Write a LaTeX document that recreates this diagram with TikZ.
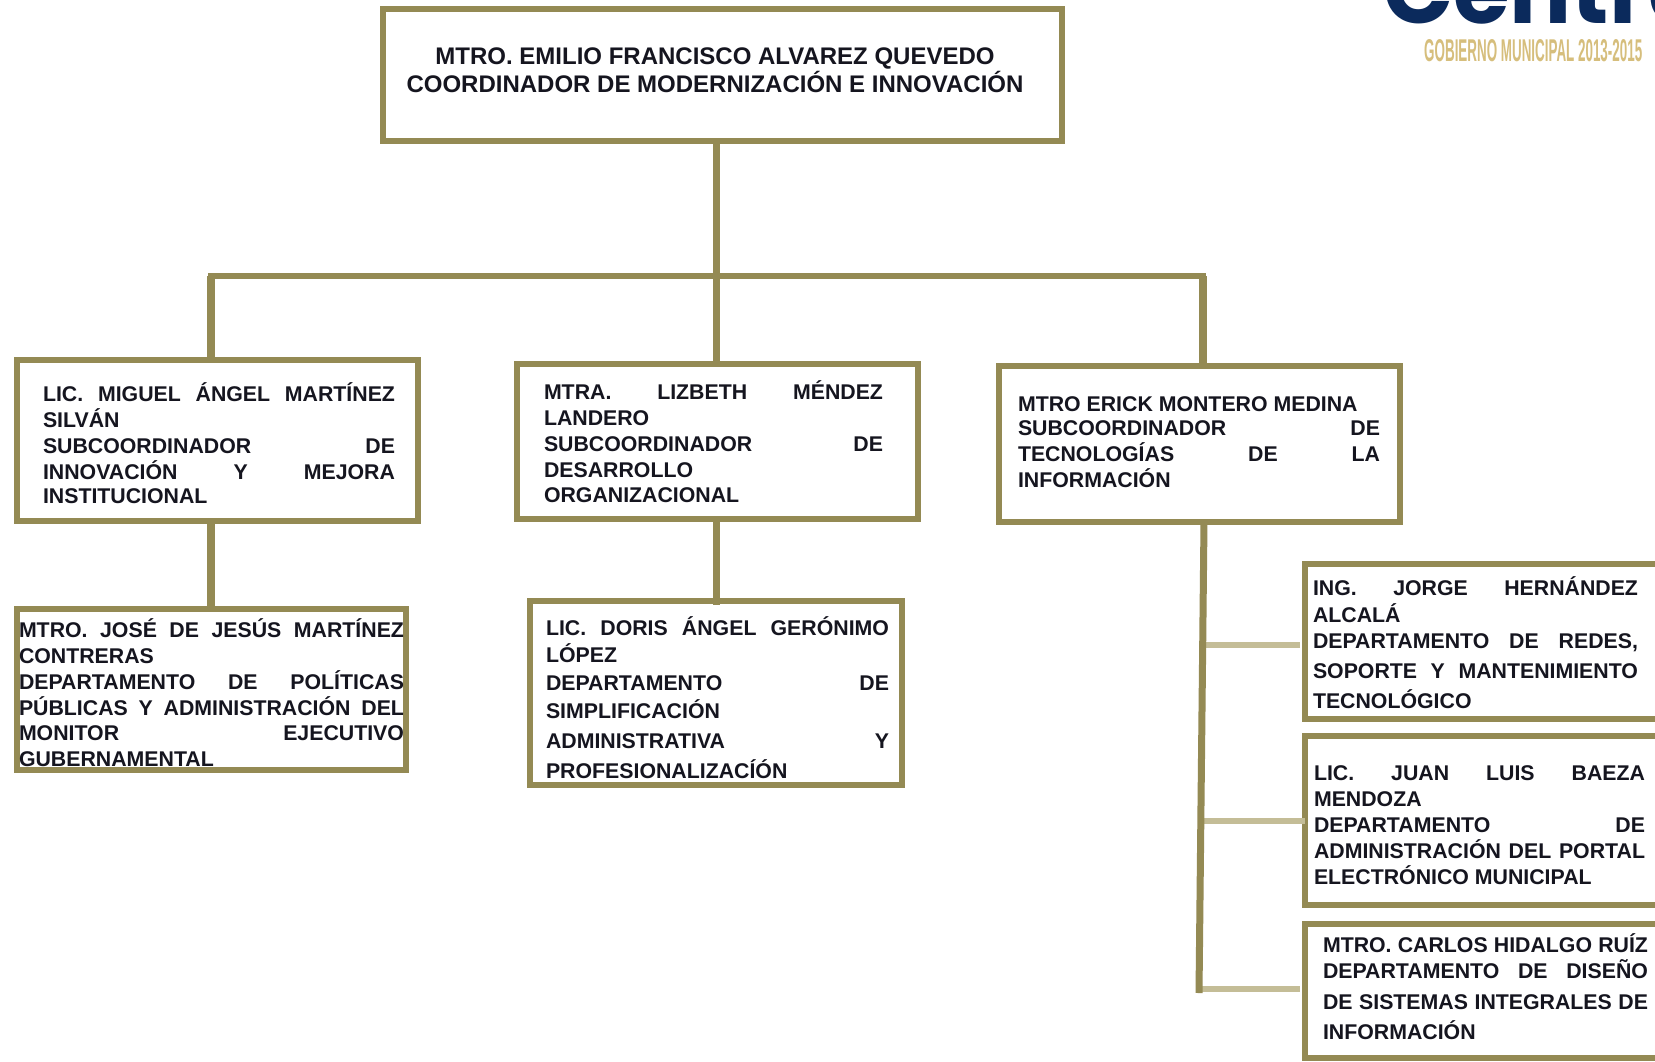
\documentclass[tikz,border=0pt]{standalone}
\usepackage{fontspec}
\usepackage{graphicx}
\setmainfont{Liberation Sans}
\newfontfamily\logofont{Poppins}
\definecolor{rimcol}{HTML}{948A54}
\definecolor{palecol}{HTML}{C4BD97}
\definecolor{inkcol}{HTML}{15151F}
\definecolor{navycol}{HTML}{0B2A5C}
\definecolor{tancol}{HTML}{D6BE7C}
\newdimen\marginL \newdimen\textW
\newbox\linebox
\newcommand{\PutLine}[2]{\vskip#1pt\setbox\linebox=\hbox to \hsize{\kern\marginL\hbox to \textW{#2}\hss}\ht\linebox=0pt\dp\linebox=0pt\box\linebox}
% justified line / natural line / centred line, in the text column of the box
\newcommand{\Jl}[2]{\PutLine{#1}{\spaceskip=.278em plus 1fil minus .2em\relax #2}}
\newcommand{\Nl}[2]{\PutLine{#1}{#2\hss}}
\newcommand{\Cl}[2]{\PutLine{#1}{\hss\fontsize{24}{28}\selectfont #2\hss}}
% name, x1, y1, x2, y2 (centre of border), text left, text right, first baseline, lines
\newcommand{\OrgBox}[9]{%
  \node[orgbox,minimum width=#4pt-#2pt,minimum height=#5pt-#3pt,anchor=north west] (#1) at (#2,#3) {%
    \vbox to \dimexpr#5pt-#3pt\relax{\hsize=\dimexpr#4pt-#2pt\relax
      \offinterlineskip\marginL=\dimexpr#6pt-#2pt\relax\textW=\dimexpr#7pt-#6pt\relax
      \vskip\dimexpr#8pt-#3pt\relax #9\vss}};}
\tikzset{
  orgbox/.style={draw=rimcol,line width=5.5pt,rectangle,inner sep=0pt,outer sep=0pt,fill=white,
    text=inkcol,font=\bfseries\fontsize{21.3}{26}\selectfont},
  trunk/.style={draw=rimcol,line width=7.5pt},
  twig/.style={draw=palecol,line width=6pt},
}
\begin{document}
\begin{tikzpicture}[x=1pt,y=-1pt]
\useasboundingbox (0,0) rectangle (1655,1061);
\clip (0,0) rectangle (1655,1061);
\fill[white] (0,0) rectangle (1655,1061);
% logo
\node[anchor=base west,inner sep=0pt,text=navycol,font=\logofont\bfseries\fontsize{92}{92}\selectfont] (logo) at (1383,23) {Centro};
\node[anchor=south west,inner sep=0pt,text=tancol,font=\bfseries] (gob) at (1424,62) {\resizebox{218pt}{22pt}{GOBIERNO MUNICIPAL 2013-2015}};
% boxes
\OrgBox{top}{383}{9}{1062}{141}{383}{1047}{64}{%
  \Cl{0}{MTRO. EMILIO FRANCISCO ALVAREZ QUEVEDO}\Cl{28}{COORDINADOR DE MODERNIZACIÓN E INNOVACIÓN}}
\OrgBox{sa}{17}{360}{418}{521}{43}{395}{401}{%
  \Jl{0}{LIC. MIGUEL ÁNGEL MARTÍNEZ}\Nl{26}{SILVÁN}\Jl{26}{SUBCOORDINADOR DE}\Jl{26}{INNOVACIÓN Y MEJORA}\Nl{24}{INSTITUCIONAL}}
\OrgBox{sb}{517}{364}{918}{519}{544}{883}{399}{%
  \Jl{0}{MTRA. LIZBETH MÉNDEZ}\Nl{26}{LANDERO}\Jl{26}{SUBCOORDINADOR DE}\Nl{26}{DESARROLLO}\Nl{25}{ORGANIZACIONAL}}
\OrgBox{sc}{999}{366}{1400}{522}{1018}{1380}{411}{%
  \Nl{0}{MTRO ERICK MONTERO MEDINA}\Jl{24}{SUBCOORDINADOR DE}\Jl{26}{TECNOLOGÍAS DE LA}\Nl{26}{INFORMACIÓN}}
\OrgBox{da}{17}{609}{406}{770}{19}{404}{637}{%
  \Jl{0}{MTRO. JOSÉ DE JESÚS MARTÍNEZ}\Nl{26}{CONTRERAS}\Jl{26}{DEPARTAMENTO DE POLÍTICAS}\Jl{26}{PÚBLICAS Y ADMINISTRACIÓN DEL}\Jl{25}{MONITOR EJECUTIVO}\Nl{26}{GUBERNAMENTAL}}
\OrgBox{db}{530}{601}{902}{785}{546}{889}{635}{%
  \Jl{0}{LIC. DORIS ÁNGEL GERÓNIMO}\Nl{27}{LÓPEZ}\Jl{28}{DEPARTAMENTO DE}\Nl{28}{SIMPLIFICACIÓN}\Jl{30}{ADMINISTRATIVA Y}\Nl{30}{PROFESIONALIZACÍÓN}}
\OrgBox{ra}{1305}{564}{1662}{719}{1313}{1638}{595}{%
  \Jl{0}{ING. JORGE HERNÁNDEZ}\Nl{27}{ALCALÁ}\Jl{26}{DEPARTAMENTO DE REDES,}\Jl{30}{SOPORTE Y MANTENIMIENTO}\Nl{30}{TECNOLÓGICO}}
\OrgBox{rb}{1305}{736}{1662}{905}{1314}{1645}{780}{%
  \Jl{0}{LIC. JUAN LUIS BAEZA}\Nl{26}{MENDOZA}\Jl{26}{DEPARTAMENTO DE}\Jl{26}{ADMINISTRACIÓN DEL PORTAL}\Nl{26}{ELECTRÓNICO MUNICIPAL}}
\OrgBox{rc}{1305}{924}{1662}{1058}{1323}{1648}{952}{%
  \Jl{0}{MTRO. CARLOS HIDALGO RUÍZ}\Jl{26}{DEPARTAMENTO DE DISEÑO}\Jl{31}{DE SISTEMAS INTEGRALES DE}\Nl{30}{INFORMACIÓN}}
% connector junctions
\coordinate (hub) at (716.5,276);
\coordinate (dl) at (211,276);
\coordinate (dr) at (1203,276);
\coordinate (tk1) at (1204,522);
\coordinate (tk2) at (1199,993);
\coordinate (ja) at (1204,645);
\coordinate (jb) at (1202,821);
\coordinate (jc) at (1199,989);
% connectors
\draw[trunk] (top.south -| hub) -- (hub);
\draw[trunk,line width=6pt,line cap=rect] (dl) -- (dr);
\draw[trunk] (dl) -- (sa.north -| dl);
\draw[trunk] (hub) -- (sb.north -| hub);
\draw[trunk] (dr) -- (sc.north -| dr);
\draw[trunk] (sa.south -| dl) -- (da.north -| dl);
\draw[trunk,line width=7pt,shorten >=-4pt] (sb.south -| hub) -- (db.north -| hub);
\draw[twig,shorten >=5pt] (ja) -- (ra.west |- ja);
\draw[twig] (jb) -- (rb.west |- jb);
\draw[twig,shorten >=5pt] (jc) -- (rc.west |- jc);
\draw[trunk,line width=7pt] (tk1) -- (tk2);
\end{tikzpicture}
\end{document}
